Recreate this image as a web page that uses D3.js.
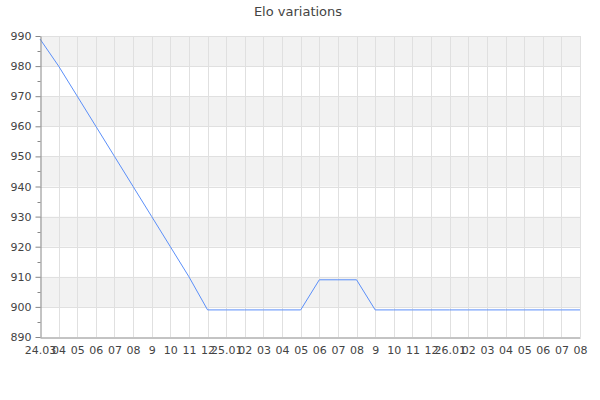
<!DOCTYPE html>
<html><head><meta charset="utf-8">
<script src="https://cdn.jsdelivr.net/npm/d3@7"></script>
<style>
body{margin:0;background:#fff;}
text{font-family:"DejaVu Sans",sans-serif;}
</style></head>
<body><svg id="c" width="600" height="400"></svg>
<script>
const title = "Elo variations";
const months = ["24.03","04","05","06","07","08","9","10","11","12","25.01","02","03","04","05","06","07","08","9","10","11","12","26.01","02","03","04","05","06","07","08"];
const elo = [989,980,970,960,950,940,930,920,910,899,899,899,899,899,899,909,909,909,899,899,899,899,899,899,899,899,899,899,899,899];
const yTicks = [890,900,910,920,930,940,950,960,970,980,990];

const svg = d3.select("#c");
const L=40,R=580,T=36,B=337;
const x = d3.scaleLinear().domain([0, months.length-1]).range([L,R]);
const y = d3.scaleLinear().domain([890,990]).range([B,T]);

// bands
const bands = d3.range(0, yTicks.length-1).filter(i => (yTicks.length-2-i)%2===0);
svg.append("g").selectAll("rect").data(bands).join("rect")
  .attr("x",L).attr("width",R-L)
  .attr("y",i=>y(yTicks[i+1])).attr("height",i=>y(yTicks[i])-y(yTicks[i+1]))
  .attr("fill","#f2f2f2");

// grid
const g = svg.append("g").attr("stroke","#e0e0e0").attr("stroke-width",1);
g.selectAll("line.h").data(yTicks.slice(1)).join("line").attr("class","h")
  .attr("x1",L).attr("x2",R).attr("y1",d=>Math.round(y(d))+0.5).attr("y2",d=>Math.round(y(d))+0.5);
g.selectAll("line.v").data(d3.range(1,months.length)).join("line").attr("class","v")
  .attr("y1",T).attr("y2",B).attr("x1",d=>Math.round(x(d))+0.5).attr("x2",d=>Math.round(x(d))+0.5);

// line
svg.append("path").datum(elo)
  .attr("fill","none").attr("stroke","#5b8ff9").attr("stroke-width",1)
  .attr("d", d3.line().x((d,i)=>x(i)).y(d=>y(d)));

// y axis
const ya = svg.append("g").attr("transform",`translate(${L+0.5},0)`)
  .call(d3.axisLeft(y).tickValues(yTicks).tickSize(5).tickSizeOuter(0).tickFormat(d3.format("d")));
const yminor = d3.range(895,990,10);
ya.selectAll("line.minor").data(yminor).join("line").attr("class","minor")
  .attr("x1",-3).attr("x2",0).attr("y1",d=>Math.round(y(d))+0.5).attr("y2",d=>Math.round(y(d))+0.5)
  .attr("stroke","#888");
ya.select(".domain").attr("stroke","#888");
ya.selectAll(".tick line").attr("stroke","#888");
ya.selectAll(".tick text").attr("fill","#444").attr("font-size",11).attr("x",-9).style("font-family","DejaVu Sans");

// x axis
const xa = svg.append("g").attr("transform",`translate(0,${B+0.5})`)
  .call(d3.axisBottom(x).tickValues(d3.range(months.length)).tickSize(0).tickSizeOuter(0).tickFormat(i=>months[i]));
xa.select(".domain").attr("stroke","#888");
xa.selectAll(".tick text").attr("fill","#444").attr("font-size",11).attr("dy","0").attr("y",16).style("font-family","DejaVu Sans");

svg.append("text").attr("x",298).attr("y",16).attr("text-anchor","middle")
  .attr("font-size",13).attr("fill","#444").text(title);
</script></body></html>
